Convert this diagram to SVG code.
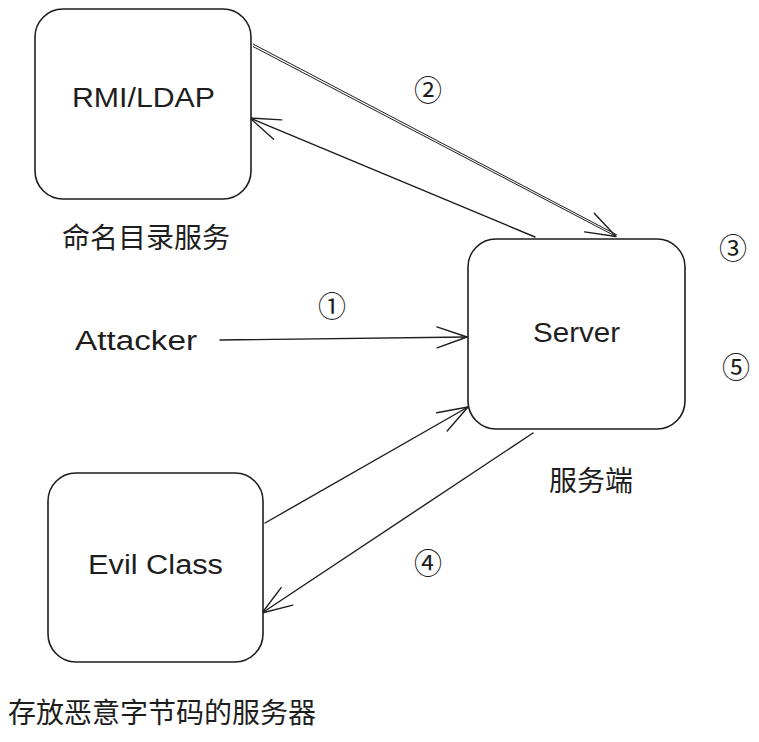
<svg xmlns="http://www.w3.org/2000/svg" width="759" height="742" viewBox="0 0 759 742">
  <defs>
    <style>
      .box { fill: #ffffff; stroke: #1e1e1e; stroke-width: 1.6; }
      .hand { font-family: "Liberation Sans", "DejaVu Sans", sans-serif; font-size: 27px; fill: #1e1e1e; }
      .cjk { font-family: "Noto Sans CJK SC", "Noto Sans", sans-serif; font-size: 28px; fill: #1e1e1e; }
      .num { font-family: "Noto Sans CJK SC", "DejaVu Sans", sans-serif; font-size: 28px; fill: #1e1e1e; text-anchor: middle; dominant-baseline: central; }
      .edge { fill: none; stroke: #1e1e1e; stroke-width: 1.4; stroke-linecap: round; }
      .thin { fill: none; stroke: #1e1e1e; stroke-width: 1; }
    </style>
    <marker id="arrow" markerUnits="userSpaceOnUse" orient="auto" markerWidth="40" markerHeight="40" refX="0" refY="0" viewBox="-35 -20 40 40" overflow="visible">
      <path d="M-30,-10.5 L0,0 L-30,10.5" fill="none" stroke="#1e1e1e" stroke-width="1.4" stroke-linecap="round" stroke-linejoin="round"/>
    </marker>
  </defs>
  <rect x="0" y="0" width="759" height="742" fill="#ffffff"/>

  <g id="connectors">
    <!-- (2) RMI -> Server, double stroke -->
    <path class="thin" d="M253,44 L617,235"/>
    <path class="thin" d="M253,46.5 L616,236.5" marker-end="url(#arrow)"/>
    <!-- Server -> RMI -->
    <path class="edge" d="M535,237 L250,118" marker-end="url(#arrow)"/>
    <!-- (1) Attacker -> Server -->
    <path class="edge" d="M220,340 L467,337" marker-end="url(#arrow)"/>
    <!-- Evil -> Server -->
    <path class="edge" d="M265,523 L468,407" marker-end="url(#arrow)"/>
    <!-- Server -> Evil -->
    <path class="edge" d="M533,433 L262,613" marker-end="url(#arrow)"/>
  </g>

  <g id="rmi">
    <rect class="box" x="35" y="9" width="216" height="190" rx="28" ry="28"/>
    <text class="hand" x="72" y="107" textLength="143" lengthAdjust="spacingAndGlyphs">RMI/LDAP</text>
    <text class="cjk" x="62" y="248">命名目录服务</text>
  </g>

  <g id="server">
    <rect class="box" x="468" y="239" width="217" height="190" rx="28" ry="28"/>
    <text class="hand" x="533" y="342" textLength="87" lengthAdjust="spacingAndGlyphs">Server</text>
    <text class="cjk" x="549" y="491">服务端</text>
  </g>

  <g id="evil">
    <rect class="box" x="48" y="473" width="215" height="189" rx="28" ry="28"/>
    <text class="hand" x="88" y="574" textLength="135" lengthAdjust="spacingAndGlyphs">Evil Class</text>
    <text class="cjk" x="8" y="723">存放恶意字节码的服务器</text>
  </g>

  <g id="attacker">
    <text class="hand" x="75" y="350" textLength="122" lengthAdjust="spacingAndGlyphs">Attacker</text>
  </g>

  <g id="labels">
    <text class="num" x="332" y="305">①</text>
    <text class="num" x="428" y="89">②</text>
    <text class="num" x="733" y="247">③</text>
    <text class="num" x="428" y="562">④</text>
    <text class="num" x="736" y="366">⑤</text>
  </g>
</svg>
